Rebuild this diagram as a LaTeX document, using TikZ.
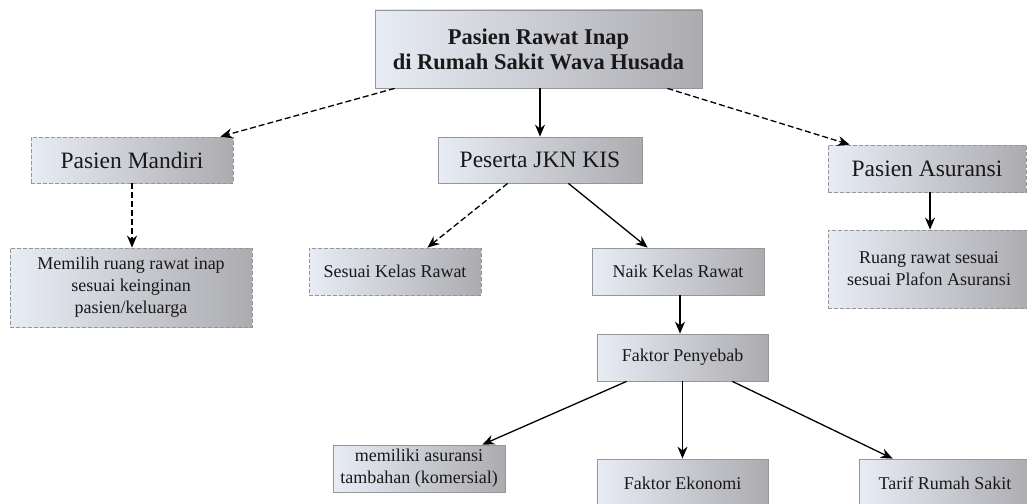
\documentclass[tikz,border=0pt]{standalone}
\usepackage{fontspec}
\setmainfont{Liberation Serif}
\usetikzlibrary{arrows.meta}
\definecolor{boxL}{RGB}{232,236,245}
\definecolor{boxR}{RGB}{172,172,176}
\definecolor{boxEdge}{RGB}{150,150,152}
\tikzset{
  boxbase/.style={draw=boxEdge, line width=0.8pt, left color=boxL, right color=boxR,
    inner sep=0pt, align=center, text=black!90},
  solidbox/.style={boxbase},
  dashbox/.style={boxbase, dash pattern=on 4pt off 2pt},
  bigtxt/.style={font=\fontsize{23.5}{27}\selectfont},
  smalltxt/.style={font=\fontsize{18}{22}\selectfont},
  conn/.style={-{Stealth[length=12pt,width=10pt]}, line width=1.3pt, black},
  dconn/.style={conn, dash pattern=on 6pt off 3pt},
}
\begin{document}
\begin{tikzpicture}[x=1pt,y=-1pt]
\useasboundingbox (0,0) rectangle (1027,503);
\node[solidbox, minimum width=327, minimum height=78,
  font=\fontsize{22.5}{25}\selectfont\bfseries] (top) at (538.5,49)
  {Pasien Rawat Inap\\di Rumah Sakit Wava Husada};
\node[dashbox, bigtxt, minimum width=202, minimum height=46] (mandiri) at (132,160) {Pasien Mandiri};
\node[solidbox, bigtxt, minimum width=204, minimum height=46] (jkn) at (540,160) {Peserta JKN KIS};
\node[dashbox, bigtxt, minimum width=198, minimum height=47] (asur) at (927,168.5) {Pasien Asuransi};
\node[dashbox, smalltxt, minimum width=202, minimum height=78] (ruang) at (929,269)
  {Ruang rawat sesuai\\sesuai Plafon Asuransi};
\node[dashbox, smalltxt, minimum width=242, minimum height=79] (memilih) at (131,287.5)
  {Memilih ruang rawat inap\\sesuai keinginan\\pasien/keluarga};
\node[dashbox, smalltxt, minimum width=172, minimum height=47] (sesuai) at (395,271.5) {Sesuai Kelas Rawat};
\node[solidbox, smalltxt, minimum width=172, minimum height=47] (naik) at (678,271.5) {Naik Kelas Rawat};
\node[solidbox, smalltxt, minimum width=171, minimum height=47] (fp) at (682.5,357.5) {Faktor Penyebab};
\node[solidbox, smalltxt, minimum width=172, minimum height=47] (memiliki) at (419,468.5)
  {memiliki asuransi\\tambahan (komersial)};
\node[solidbox, smalltxt, minimum width=171, minimum height=48] (fe) at (682.5,483) {Faktor Ekonomi};
\node[solidbox, smalltxt, minimum width=172, minimum height=48] (tarif) at (945,483) {Tarif Rumah Sakit};

\draw[dconn] ([xshift=20]top.south west) -- ([xshift=-13]mandiri.north east);
\draw[conn] (jkn.north |- top.south) -- (jkn.north);
\draw[dconn] ([xshift=-35]top.south east) -- ([xshift=22]asur.north west);
\draw[dconn] (mandiri.south) -- (mandiri.south |- memilih.north);
\draw[dconn] ([xshift=70]jkn.south west) -- ([xshift=-54]sesuai.north east);
\draw[conn] ([xshift=-74]jkn.south east) -- ([xshift=56]naik.north west);
\draw[conn] ([xshift=3]asur.south) -- ([xshift=3]asur.south |- ruang.north);
\draw[conn] ([xshift=2]naik.south) -- ([xshift=2]naik.south |- fp.north);
\draw[conn] ([xshift=30]fp.south west) -- ([xshift=-23]memiliki.north east);
\draw[conn] (fp.south) -- (fe.north);
\draw[conn] ([xshift=-36]fp.south east) -- ([xshift=34]tarif.north west);
\end{tikzpicture}
\end{document}
